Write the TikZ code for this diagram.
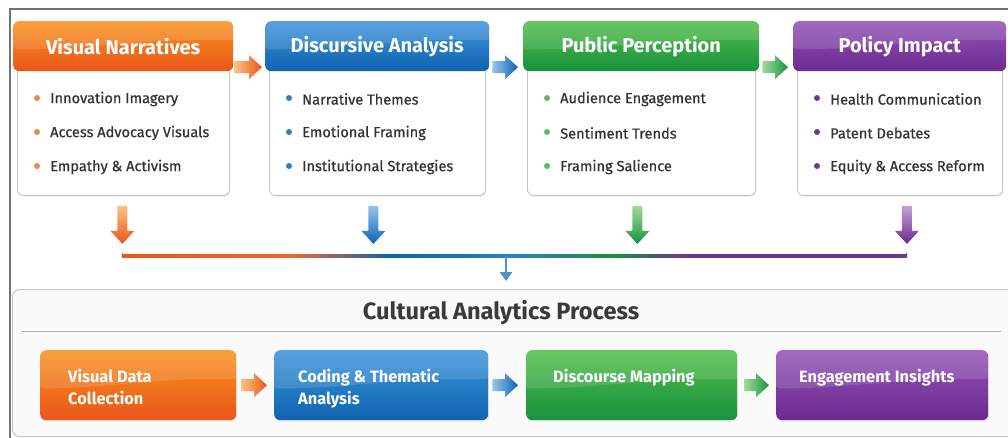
\documentclass[tikz,border=0pt]{standalone}
\usepackage{fontspec}
\setmainfont{Fira Sans}
\newfontfamily\itemfont{Fira Sans}[FakeBold=0.7]
\usetikzlibrary{calc,shadows,arrows.meta}

% palette: A = light top, B = deep bottom, D = bullet dot
\definecolor{orgA}{HTML}{F8921F}\definecolor{orgB}{HTML}{EA561A}\definecolor{orgD}{HTML}{F0874A}
\definecolor{bluA}{HTML}{3E95DA}\definecolor{bluB}{HTML}{0F63B1}\definecolor{bluD}{HTML}{2F7FC1}
\definecolor{grnA}{HTML}{52BE4A}\definecolor{grnB}{HTML}{18923D}\definecolor{grnD}{HTML}{5DBB5A}
\definecolor{purA}{HTML}{9453B6}\definecolor{purB}{HTML}{6A2A8F}\definecolor{purD}{HTML}{6B3B93}
\definecolor{txt}{HTML}{333333}
\definecolor{ttl}{HTML}{3A3A3A}
\definecolor{edge}{HTML}{C6C6C6}

% colour bar joining the four branches
\pgfdeclarehorizontalshading{busline}{100bp}{%
  color(0bp)=(orgB); color(25bp)=(orgB); color(36bp)=(orgB!90);
  color(42bp)=(bluB); color(50bp)=(bluD); color(56bp)=(grnB);
  color(61bp)=(purD); color(75bp)=(purD); color(100bp)=(purD)}

\tikzset{
  gloss/.style={path picture={
      \fill[white, opacity=0.13]
        ($(path picture bounding box.north west)+(-2,-2)$) --
        ($(path picture bounding box.north east)+(2,-2)$) --
        ($(path picture bounding box.east)+(2,-6)$) .. controls
        ($(path picture bounding box.center)+(20,-8)$) and
        ($(path picture bounding box.center)+(-40,4)$) ..
        ($(path picture bounding box.west)+(-2,3)$) -- cycle;}},
  cardbody/.style={draw=edge, line width=0.9pt, fill=white, rounded corners=6pt,
    drop shadow={opacity=0.12, shadow xshift=1pt, shadow yshift=-1.5pt}},
  cardhead/.style={rounded corners=6pt, text=white, gloss,
    font=\fontsize{20}{22}\selectfont\bfseries},
  bulletdot/.style={circle, minimum size=6pt, inner sep=0pt},
  itemtext/.style={text=txt, inner sep=0pt, font=\fontsize{14.6}{17}\itemfont},
  panelbox/.style={draw=edge, line width=1pt, fill=black!2, rounded corners=7pt},
  paneltitle/.style={text=ttl, font=\fontsize{23.6}{26}\selectfont\bfseries},
  stepbox/.style={rounded corners=6pt, gloss,
    drop shadow={opacity=0.12, shadow xshift=1pt, shadow yshift=-1.5pt}},
  steptext/.style={text=white, inner sep=0pt, align=left,
    font=\fontsize{16.4}{22}\selectfont\bfseries},
  frameline/.style={draw=black!55, line width=1.2pt},
}

% top card: #1 name, #2 left x, #3 header width, #4 colour, #5 title, #6-#8 items
\newcommand\flowcard[8]{%
  \node[cardbody, anchor=north west, minimum width=#3pt-8pt, minimum height=133pt]
    (#1body) at (#2+4,62) {};
  \node[cardhead, top color=#4A, bottom color=#4B, anchor=north west,
    minimum width=#3pt, minimum height=50pt] (#1) at (#2,21) {#5};
  \node[bulletdot, fill=#4D] (#1d1) at (#2+24,98) {};
  \node[bulletdot, fill=#4D] (#1d2) at (#2+24,132) {};
  \node[bulletdot, fill=#4D] (#1d3) at (#2+24,166) {};
  \node[itemtext, anchor=west] (#1i1) at (#2+37,99) {#6};
  \node[itemtext, anchor=west] (#1i2) at (#2+37,133) {#7};
  \node[itemtext, anchor=west] (#1i3) at (#2+37,167) {#8};
}

% block arrow pointing right, from #1 to #2, colour #3
\newcommand\rblock[3]{%
  \shade[left color=#3A!55, right color=#3B]
    ($(#1)+(0,-6)$) -- ($(#2)+(-13,-6)$) -- ($(#2)+(-13,-12)$) -- (#2)
    -- ($(#2)+(-13,12)$) -- ($(#2)+(-13,6)$) -- ($(#1)+(0,6)$) -- cycle;}

% block arrow pointing down from #1, colour #2
\newcommand\dblock[2]{%
  \shade[top color=#2A!55, bottom color=#2B]
    ($(#1)+(-5,0)$) -- ($(#1)+(5,0)$) -- ($(#1)+(5,25)$) -- ($(#1)+(12,25)$)
    -- ($(#1)+(0,38)$) -- ($(#1)+(-12,25)$) -- ($(#1)+(-5,25)$) -- cycle;}

\begin{document}
\begin{tikzpicture}[x=1pt, y=-1pt]
  \clip (0,0) rectangle (1008,438);
  \fill[white] (0,0) rectangle (1008,438);

  % outer frame
  \draw[frameline] (1012,9) -- (10,9) -- (10,442);

  % four stages
  \flowcard{vn}{13}{220}{org}{Visual Narratives}
    {Innovation Imagery}{Access Advocacy Visuals}{Empathy \& Activism}
  \flowcard{da}{265}{224}{blu}{Discursive Analysis}
    {Narrative Themes}{Emotional Framing}{Institutional Strategies}
  \flowcard{pp}{523}{236}{grn}{Public Perception}
    {Audience Engagement}{Sentiment Trends}{Framing Salience}
  \flowcard{pi}{793}{213}{pur}{Policy Impact}
    {Health Communication}{Patent Debates}{Equity \& Access Reform}

  % links between stages
  \rblock{$(vn.east)+(1,21)$}{$(da.west)+(-3,21)$}{org}
  \rblock{$(da.east)+(3,21)$}{$(pp.west)+(-5,21)$}{blu}
  \rblock{$(pp.east)+(3,21)$}{$(pi.west)+(-5,21)$}{grn}

  % branches down to the common bar
  \dblock{$(vnbody.south)+(-1,10)$}{org}
  \dblock{$(dabody.south)+(-4,10)$}{blu}
  \dblock{$(ppbody.south)+(-4,10)$}{grn}
  \dblock{$(pibody.south)+(7,10)$}{pur}

  \coordinate (busL) at (122,256);
  \coordinate (busR) at (907,256);
  \coordinate (busM) at (506,256);
  \shade[shading=busline] ($(busL)+(0,-1.3)$) rectangle ($(busR)+(0,1.3)$);
  \draw[orgB, line width=1.4pt] ($(busL)+(0.7,1.2)$) -- ++(0,-4);
  \draw[purD, line width=1.4pt] ($(busR)+(-0.7,1.2)$) -- ++(0,-4);

  % lower panel
  \node[panelbox, anchor=north west, minimum width=1010pt, minimum height=147pt]
    (panel) at (12,289) {};
  \draw[bluD!85, line width=2.4pt, -{Triangle[width=12pt,length=9pt]}]
    (busM) -- ($(busM |- panel.north)+(0,-8)$);
  \node[paneltitle] (ptitle) at (501,313) {Cultural Analytics Process};
  \draw[black!30, line width=1pt] ($(panel.north west)+(10,42)$) -- ($(panel.north west)+(989,42)$);

  % process steps
  \node[stepbox, top color=orgA, bottom color=orgB, anchor=north west,
    minimum width=196pt, minimum height=70pt] (s1) at (40,350) {};
  \node[stepbox, top color=bluA, bottom color=bluB, anchor=north west,
    minimum width=214pt, minimum height=70pt] (s2) at (274,350) {};
  \node[stepbox, top color=grnA, bottom color=grnB, anchor=north west,
    minimum width=211pt, minimum height=70pt] (s3) at (526,350) {};
  \node[stepbox, top color=purA, bottom color=purB, anchor=north west,
    minimum width=212pt, minimum height=70pt] (s4) at (776,350) {};

  \node[steptext, anchor=north west] (t1) at ($(s1.north west)+(28,19)$) {Visual Data\\Collection};
  \node[steptext, anchor=north west] (t2) at ($(s2.north west)+(24,19)$) {Coding \& Thematic\\Analysis};
  \node[steptext, anchor=north west] (t3) at ($(s3.north west)+(27,19)$) {Discourse Mapping};
  \node[steptext, anchor=north west] (t4) at ($(s4.north west)+(23,19)$) {Engagement Insights};

  \rblock{$(s1.east)+(5,0)$}{$(s2.west)+(-7,0)$}{org}
  \rblock{$(s2.east)+(4,0)$}{$(s3.west)+(-8,0)$}{blu}
  \rblock{$(s3.east)+(7,0)$}{$(s4.west)+(-7,0)$}{grn}
\end{tikzpicture}
\end{document}
